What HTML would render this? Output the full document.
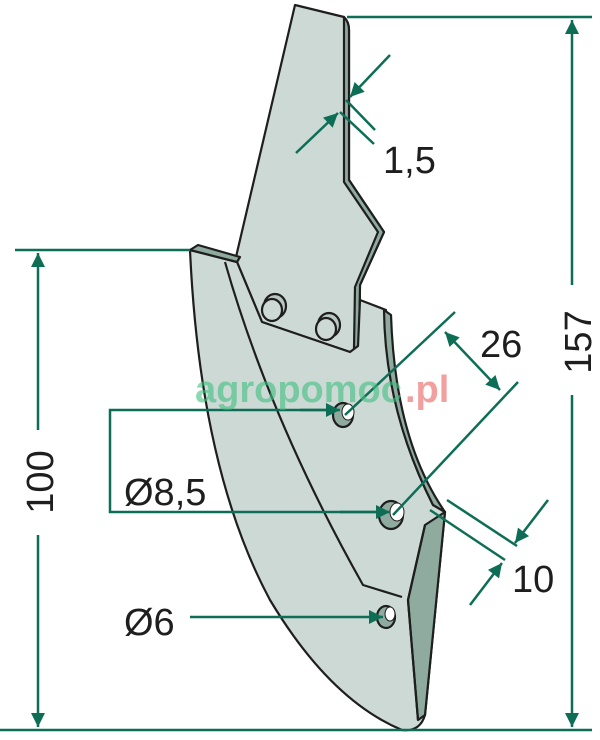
<!DOCTYPE html>
<html><head><meta charset="utf-8"><style>
html,body{margin:0;padding:0;background:#fff;width:600px;height:740px;overflow:hidden}
svg{display:block}
text{font-family:"Liberation Sans",sans-serif;fill:#1e1e1e}
</style></head><body>
<svg width="600" height="740" viewBox="0 0 600 740" xmlns="http://www.w3.org/2000/svg">
<defs>
<marker id="b" viewBox="0 0 10 10" refX="10" refY="5" markerWidth="16" markerHeight="14" orient="auto-start-reverse" markerUnits="userSpaceOnUse"><path d="M0,0 L10,5 L0,10z" fill="#0d6e55"/></marker>
</defs>
<g stroke="#1e1e1e" stroke-width="2.2" stroke-linejoin="round">
<path d="M295,5 L344,17 Q349,22 349,30 L349,180 L384,232 L360,285 L359,348 Q357,352 350,352 L262,322 L237,262 L236,257 Z" fill="#cdd9d5"/>
<path d="M344,17 Q349,22 349,30 L349,180 L384,232 L360,285 L359,348 L354,348 L355,287 L378,232 L344,182 L344,20 Z" fill="#8fab9f"/>
<path d="M190,250 L237,262 L262,322 L350,352 L358,346 L360,300 L386,310 Q385,410 433,505 L445,512 L425,715 Q420,732 402,730 Q330,700 270,600 Q200,470 190,250 Z" fill="#cdd9d5"/>
<path d="M384,310 Q385,410 433,505 L445,512 Q395,440 391,315 Z" fill="#8fab9f"/>
<path d="M425,525 L445,512 L425,715 L418,720 L408,600 Z" fill="#8fab9f"/>
<path d="M190,250 L198,245 L240,257 L237,262 Z" fill="#8fab9f"/>
<path d="M225,262 Q270,420 363,585 L402,597" fill="none"/>
<path d="M425,525 L408,600 L418,720" fill="none"/>
<ellipse cx="343" cy="415" rx="10" ry="12" fill="#8fab9f"/><ellipse cx="348" cy="412" rx="6" ry="8" fill="#fff" stroke-width="1"/>
<ellipse cx="391" cy="515" rx="12" ry="14" fill="#8fab9f"/><ellipse cx="397" cy="512" rx="7" ry="9" fill="#fff" stroke-width="1"/>
<ellipse cx="386" cy="617" rx="9" ry="11" fill="#8fab9f"/><ellipse cx="390" cy="614" rx="5" ry="7" fill="#fff" stroke-width="1"/>
<ellipse cx="275" cy="306" rx="11" ry="12" fill="#b9c7c2"/><ellipse cx="272" cy="310" rx="10" ry="11" fill="#cdd9d5"/>
<ellipse cx="329" cy="325" rx="11" ry="12" fill="#b9c7c2"/><ellipse cx="326" cy="329" rx="10" ry="11" fill="#cdd9d5"/>
</g>
<g stroke="#0d6e55" stroke-width="2.5" fill="none">
<line x1="347" y1="17" x2="592" y2="17"/>
<line x1="0" y1="730" x2="592" y2="730"/>
<line x1="572" y1="20" x2="572" y2="285" marker-start="url(#b)"/>
<line x1="572" y1="395" x2="572" y2="727" marker-end="url(#b)"/>
<line x1="15" y1="250" x2="190" y2="250"/>
<line x1="38" y1="253" x2="38" y2="430" marker-start="url(#b)"/>
<line x1="38" y1="535" x2="38" y2="727" marker-end="url(#b)"/>
<polyline points="338,410 110,410 110,512 388,512"/>
<line x1="300" y1="410" x2="340" y2="410" marker-end="url(#b)"/>
<line x1="340" y1="512" x2="390" y2="512" marker-end="url(#b)"/>
<line x1="190" y1="617" x2="383" y2="617" marker-end="url(#b)"/>
<line x1="345" y1="415" x2="455" y2="312"/>
<line x1="393" y1="515" x2="518" y2="382"/>
<line x1="445" y1="332" x2="500" y2="390" marker-start="url(#b)" marker-end="url(#b)"/>
<line x1="447" y1="500" x2="517" y2="546"/>
<line x1="430" y1="510" x2="505" y2="560"/>
<line x1="548" y1="500" x2="515" y2="543" marker-end="url(#b)"/>
<line x1="470" y1="605" x2="502" y2="563" marker-end="url(#b)"/>
<line x1="346" y1="100" x2="375" y2="130"/>
<line x1="340" y1="112" x2="374" y2="144"/>
<line x1="390" y1="55" x2="350" y2="97" marker-end="url(#b)"/>
<line x1="296" y1="153" x2="338" y2="113" marker-end="url(#b)"/>
</g>
<text x="195" y="402" font-size="38" font-weight="bold" opacity="0.6" style="fill:#3fbf80">agropomoc</text>
<text x="405" y="402" font-size="38" font-weight="bold" opacity="0.6" style="fill:#e86060">.pl</text>
<text x="383" y="173" font-size="38">1,5</text>
<text x="480" y="357" font-size="38">26</text>
<text x="512" y="592" font-size="38">10</text>
<text x="124" y="505" font-size="38">Ø8,5</text>
<text x="124" y="635" font-size="38">Ø6</text>
<text transform="translate(591,342) rotate(-90)" font-size="38" text-anchor="middle">157</text>
<text transform="translate(53,482) rotate(-90)" font-size="38" text-anchor="middle">100</text>
</svg>
</body></html>
